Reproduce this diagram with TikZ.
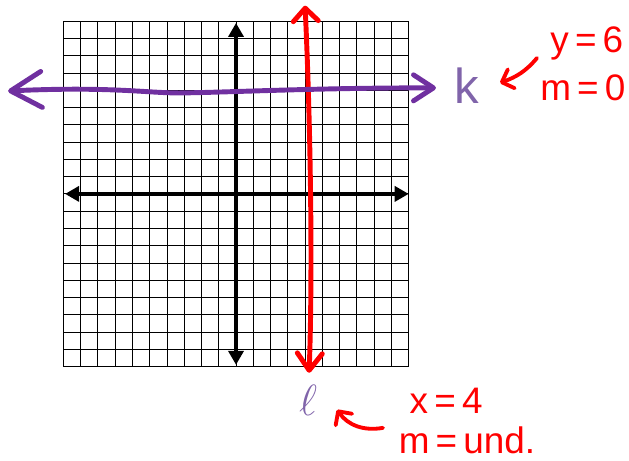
\documentclass[tikz,border=0pt]{standalone}
\usepackage{fontspec}
\setmainfont{Liberation Sans}
\usetikzlibrary{arrows.meta}
\definecolor{linepurple}{RGB}{112,48,160}
\definecolor{labelpurple}{RGB}{128,100,170}
\definecolor{penred}{RGB}{255,0,0}

\begin{document}
\begin{tikzpicture}[
	x=0.3454cm, y=0.3454cm,
	gridline/.style={black, line width=0.5pt},
	axis/.style={line width=2.3pt, {Triangle[length=0.28cm,width=0.3cm]}-{Triangle[length=0.28cm,width=0.3cm]}},
	redline/.style={penred, line width=2.8pt, line cap=round},
	purpleline/.style={linepurple, line width=2.8pt, line cap=round},
	pen/.style={penred, line width=2.2pt, line cap=round},
	note/.style={text=penred, font=\fontsize{21}{21}\selectfont, inner sep=0pt},
	tag/.style={text=labelpurple, font=\fontsize{28}{28}\selectfont, inner sep=0pt},
	]

	\useasboundingbox (-13.67,-15.46) rectangle (22.76,11.23);

	% --- graph paper ---
	\draw[gridline, step=1] (-10,-10) grid (10,10);

	% --- axes ---
	\coordinate (xl) at (-9.9,0); \coordinate (xr) at (10,0);
	\coordinate (yb) at (0,-9.9); \coordinate (yt) at (0,9.9);
	\draw[axis] (xl) -- (xr);
	\draw[axis] (yb) -- (yt);

	% --- line l : x = 4 (red) ---
	\coordinate (ltop) at (4.0,10.9);
	\coordinate (lbot) at (4.23,-10.36);
	\draw[redline, {Straight Barb[length=0.26cm,width=0.5cm,round]}-{Straight Barb[length=0.34cm,width=0.5cm,round]}]
		(ltop) .. controls (4.4,2) and (4.4,-6) .. (lbot);

	% --- line k : y = 6 (purple) ---
	\coordinate (kleft) at (-13.2,5.96);
	\coordinate (kright) at (11.58,6.14);
	\draw[purpleline, {Straight Barb[length=0.62cm,width=0.72cm,round]}-{Straight Barb[length=0.4cm,width=0.52cm,round]}]
		(kleft) .. controls (-7,6.25) and (-5,5.8) .. (-2.95,5.85)
		.. controls (0,5.9) and (5,6.15) .. (kright);

	% --- labels ---
	\node[tag] (k) at (13.38,6.25) {k};
	\node[tag, font=\fontsize{34}{34}\selectfont] (l) at (4.17,-11.93) {$\ell$};

	\node[note] (keq) at (20.32,8.7) {y\,=\,6};
	\node[note] (kslope) at (20.09,6.14) {m\,=\,0};
	\node[note] (leq) at (12.17,-12.0) {x\,=\,4};
	\node[note] (lslope) at (13.38,-14.25) {m\,=\,und.};

	% little pointers
	\coordinate (ktail) at (17.43,7.87); \coordinate (ktip) at (15.29,6.43);
	\coordinate (ltail) at (8.51,-13.55); \coordinate (ltip) at (5.85,-12.5);
	\draw[pen, -{Straight Barb[length=0.2cm,width=0.4cm,round]}] (ktail) to[out=-130, in=20] (ktip);
	\draw[pen, -{Straight Barb[length=0.2cm,width=0.4cm,round]}] (ltail) to[out=190, in=-55] (ltip);

\end{tikzpicture}
\end{document}
